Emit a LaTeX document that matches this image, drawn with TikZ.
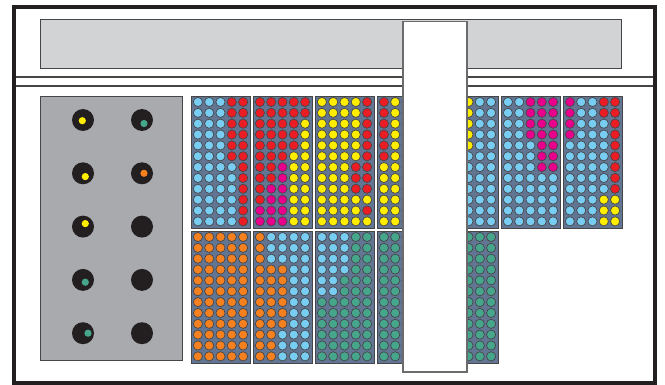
\documentclass[tikz,border=0pt]{standalone}
\usepackage{tikz}

\definecolor{cB}{RGB}{120,206,242}
\definecolor{cR}{RGB}{236,28,36}
\definecolor{cY}{RGB}{255,238,0}
\definecolor{cM}{RGB}{232,0,140}
\definecolor{cO}{RGB}{244,128,32}
\definecolor{cG}{RGB}{70,166,140}
\definecolor{slate}{RGB}{98,118,148}
\definecolor{panelgray}{RGB}{168,170,173}
\definecolor{bargray}{RGB}{210,211,213}
\definecolor{lampblack}{RGB}{35,31,32}
\definecolor{edgegray}{RGB}{70,70,72}

% one plate: left x, top y, rows of well colours
\newcommand\wellplate[3]{%
  \draw[plate] (#1,#2) rectangle ++(59,132);
  \foreach \rowcols [count=\r] in {#3}
    \foreach \c [count=\k] in \rowcols
      \path[well, fill=c\c] (#1+6.9+11.3*\k-11.3, #2+6+10.85*\r-10.85) circle[radius=4.6pt];
}

\begin{document}
\begin{tikzpicture}[
    x=1pt, y=-1pt,
    frame/.style={draw=lampblack, line width=4pt},
    rail/.style={draw=edgegray, line width=1.1pt},
    plate/.style={fill=slate, draw=edgegray, line width=0.9pt},
    well/.style={draw=edgegray, line width=0.7pt},
    lamp/.style={fill=lampblack},
    led/.style={fill=#1}
]
    \useasboundingbox (0,0) rectangle (665,385);
    \fill[white] (0,0) rectangle (665,385);

    % housing
    \draw[frame] (14,7) rectangle (655,383);
    \draw[fill=bargray, draw=edgegray, line width=0.9pt] (40,19) rectangle (621,68);
    \draw[rail] (16,77) -- (653,77);
    \draw[rail] (16,86) -- (653,86);

    % indicator panel
    \draw[fill=panelgray, draw=edgegray, line width=0.9pt] (40,96) rectangle (182,360);
    \foreach \y in {120,173.3,226.6,279.9,333.2}
      \foreach \x in {83,142}
        \path[lamp] (\x,\y) circle[radius=11pt];
    \foreach \x/\y/\col in {82.3/120.7/cY, 144/123.5/cG, 85.3/176.6/cY, 144/173.3/cO,
                            85.3/223.6/cY, 85.3/282.2/cG, 88/333.2/cG}
      \path[led=\col] (\x,\y) circle[radius=3.6pt];

    % upper row of plates
    \wellplate{191}{96}{{B,B,B,R,R},{B,B,B,R,R},{B,B,B,R,R},{B,B,B,R,R},{B,B,B,R,R},{B,B,B,R,R},
      {B,B,B,B,R},{B,B,B,B,R},{B,B,B,B,R},{B,B,B,B,R},{B,B,B,B,R},{B,B,B,B,R}}
    \wellplate{253}{96}{{R,R,R,R,R},{R,R,R,R,R},{R,R,R,R,Y},{R,R,R,R,Y},{R,R,R,R,Y},{R,R,R,Y,Y},
      {R,R,M,Y,Y},{R,R,M,Y,Y},{R,M,M,Y,Y},{R,M,M,Y,Y},{M,M,M,Y,Y},{M,M,M,Y,Y}}
    \wellplate{315}{96}{{Y,Y,Y,Y,R},{Y,Y,Y,Y,R},{Y,Y,Y,Y,R},{Y,Y,Y,Y,R},{Y,Y,Y,Y,R},{Y,Y,Y,Y,R},
      {Y,Y,Y,R,R},{Y,Y,Y,R,R},{Y,Y,Y,R,R},{Y,Y,Y,Y,Y},{Y,Y,Y,Y,R},{Y,Y,Y,Y,Y}}
    \wellplate{377}{96}{{R,Y,Y,Y,Y},{R,Y,Y,Y,Y},{R,Y,Y,Y,Y},{R,Y,Y,Y,Y},{R,Y,Y,Y,Y},{R,Y,Y,Y,Y},
      {Y,Y,Y,Y,Y},{Y,Y,Y,Y,Y},{Y,Y,Y,Y,Y},{Y,Y,Y,Y,Y},{Y,Y,Y,Y,Y},{Y,Y,Y,Y,Y}}
    \wellplate{439}{96}{{Y,Y,Y,B,B},{Y,Y,Y,B,B},{Y,Y,Y,B,B},{Y,Y,Y,B,B},{Y,Y,Y,B,B},{B,B,B,B,B},
      {B,B,B,B,B},{B,B,B,B,B},{B,B,B,B,B},{B,B,B,B,B},{B,B,B,B,B},{B,B,B,B,B}}
    \wellplate{501}{96}{{B,B,M,M,M},{B,B,M,M,M},{B,B,M,M,M},{B,B,M,M,M},{B,B,B,M,M},{B,B,B,M,M},
      {B,B,B,M,M},{B,B,B,B,B},{B,B,B,B,B},{B,B,B,B,B},{B,B,B,B,B},{B,B,B,B,B}}
    \wellplate{563}{96}{{M,B,B,R,R},{M,B,B,R,R},{M,B,B,B,R},{M,B,B,B,R},{B,B,B,B,R},{B,B,B,B,R},
      {B,B,B,B,R},{B,B,B,B,R},{B,B,B,B,R},{B,B,B,Y,Y},{B,B,B,Y,Y},{B,B,B,Y,Y}}

    % lower row of plates
    \wellplate{191}{231}{{O,O,O,O,O},{O,O,O,O,O},{O,O,O,O,O},{O,O,O,O,O},{O,O,O,O,O},{O,O,O,O,O},
      {O,O,O,O,O},{O,O,O,O,O},{O,O,O,O,O},{O,O,O,O,O},{O,O,O,O,O},{O,O,O,O,O}}
    \wellplate{253}{231}{{O,B,B,B,B},{O,B,B,B,B},{O,B,B,B,B},{O,O,O,B,B},{O,O,O,B,B},{O,O,O,B,B},
      {O,O,O,B,B},{O,O,O,B,B},{O,O,O,B,B},{O,O,B,B,B},{O,O,B,B,B},{O,O,B,B,B}}
    \wellplate{315}{231}{{B,B,B,G,G},{B,B,B,G,G},{B,B,B,G,G},{B,B,B,G,G},{B,B,G,G,G},{B,B,G,G,G},
      {G,G,G,G,G},{G,G,G,G,G},{G,G,G,G,G},{G,G,G,G,G},{G,G,G,G,G},{G,G,G,G,G}}
    \wellplate{377}{231}{{G,G,G,G,G},{G,G,G,G,G},{G,G,G,G,G},{G,G,G,G,G},{G,G,G,G,G},{G,G,G,G,G},
      {G,G,G,G,G},{G,G,G,G,G},{G,G,G,G,G},{G,G,G,G,G},{G,G,G,G,G},{G,G,G,G,G}}
    \wellplate{439}{231}{{G,G,G,G,G},{G,G,G,G,G},{G,G,G,G,G},{G,G,G,G,G},{G,G,G,G,G},{G,G,G,G,G},
      {G,G,G,G,G},{G,G,G,G,G},{G,G,G,G,G},{G,G,G,G,G},{G,G,G,G,G},{G,G,G,G,G}}

    % sliding cover strip
    \draw[fill=white, draw=edgegray!80, line width=1.1pt] (403,21.5) rectangle (467,372);
\end{tikzpicture}
\end{document}
